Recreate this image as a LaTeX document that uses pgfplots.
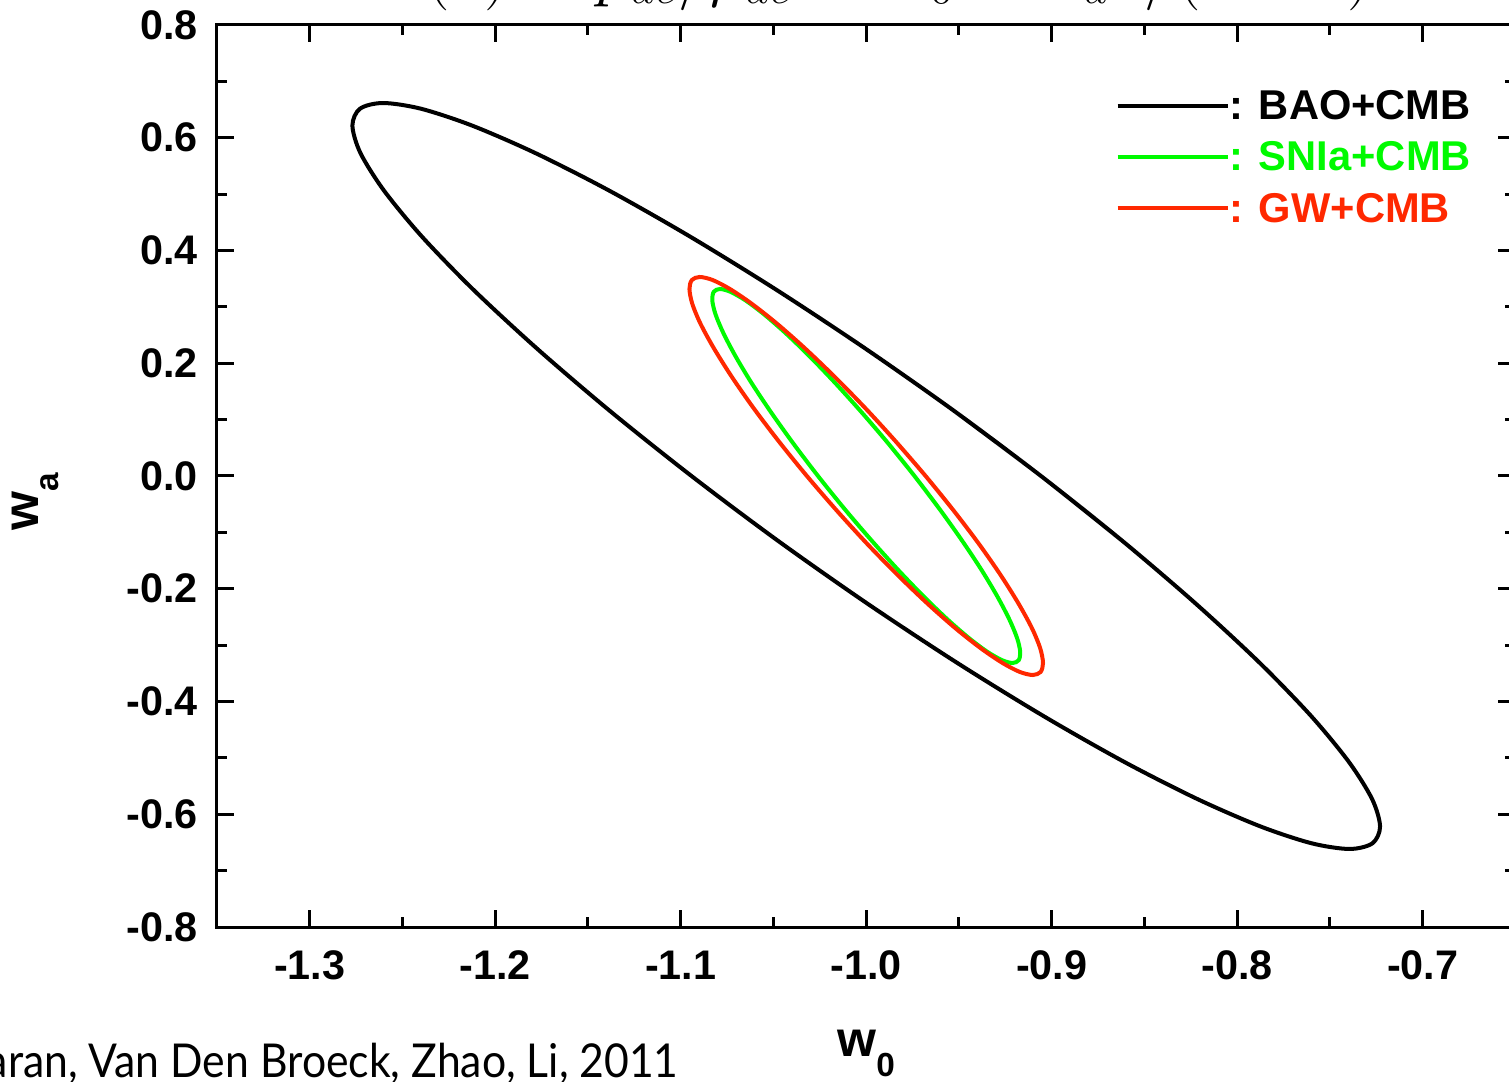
\documentclass[border=0pt]{standalone}
\usepackage{fontspec}
\setmainfont{Liberation Sans}
\newfontfamily\gill[FakeStretch=0.915]{Lato}
\usepackage{pgfplots}
\pgfplotsset{compat=1.18}
\definecolor{cgreen}{RGB}{0,250,0}
\definecolor{cred}{RGB}{255,40,0}
\begin{document}
\begin{tikzpicture}
\begin{axis}[
  at={(65.1pt,46.2pt)}, anchor=south west,
  scale only axis, width=389.55pt, height=270.6pt,
  xmin=-1.35, xmax=-0.65, ymin=-0.8, ymax=0.8,
  xtick={-1.3,-1.2,-1.1,-1.0,-0.9,-0.8,-0.7},
  xticklabels={-1.3,-1.2,-1.1,-1.0,-0.9,-0.8,-0.7},
  ytick={-0.8,-0.6,-0.4,-0.2,0,0.2,0.4,0.6,0.8},
  yticklabels={-0.8,-0.6,-0.4,-0.2,0.0,0.2,0.4,0.6,0.8},
  minor x tick num=1, minor y tick num=1,
  tick align=inside,
  major tick length=5.1pt, minor tick length=3pt,
  axis line style={line width=0.9pt},
  tick style={line width=0.9pt, black},
  tick label style={font=\bfseries\fontsize{12.4}{14}\selectfont},
  xticklabel style={yshift=-3.6pt},
  yticklabel style={xshift=-2.3pt},
  xlabel={w\raisebox{-6pt}{\fontsize{10}{10}\selectfont 0}},
  xlabel style={font=\bfseries\fontsize{15}{17}\selectfont, at={(axis description cs:0.5,-0.1441)}, anchor=base},
  ylabel={w\raisebox{-6pt}{\fontsize{10}{10}\selectfont a}},
  ylabel style={font=\bfseries\fontsize{15}{17}\selectfont, at={(axis description cs:-0.1375,0.471)}, anchor=base},
  legend style={draw=none, fill=none, at={(axis description cs:0.6916,0.930)}, anchor=north west,
    font=\bfseries\fontsize{12.5}{14}\selectfont, row sep=5.2pt, inner sep=0pt,
    nodes={inner sep=0pt, text height=9.2pt, text depth=1pt},
    /tikz/every even column/.append style={column sep=0pt}},
  legend cell align=left,
  legend image code/.code={\draw[#1] (0pt,0pt) -- (33pt,0pt);},
]
\addplot[black, line width=1.2pt, smooth] coordinates {
(-0.8620,-0.1149) (-0.9058,0) (-0.9524,0.1149) (-1.0006,0.2263) (-1.0487,0.3308) (-1.0953,0.4253)
(-1.1389,0.5068) (-1.1785,0.5730) (-1.2126,0.6217) (-1.2401,0.6515) (-1.2605,0.6616)
(-1.2729,0.6515) (-1.2770,0.6217) (-1.2727,0.5730) (-1.2601,0.5068) (-1.2397,0.4253)
(-1.2119,0.3308) (-1.1776,0.2263) (-1.1380,0.1149) (-1.0942,0) (-1.0476,-0.1149)
(-0.9994,-0.2263) (-0.9513,-0.3308) (-0.9047,-0.4253) (-0.8611,-0.5068) (-0.8215,-0.5730)
(-0.7874,-0.6217) (-0.7599,-0.6515) (-0.7395,-0.6616) (-0.7271,-0.6515) (-0.7230,-0.6217)
(-0.7273,-0.5730) (-0.7399,-0.5068) (-0.7603,-0.4253) (-0.7881,-0.3308) (-0.8224,-0.2263)
(-0.8620,-0.1149) (-0.9058,0) (-0.9524,0.1149)
};
\addlegendentry{\textcolor{black}{: BAO+CMB}}
\addplot[cgreen, line width=1.2pt, smooth] coordinates {
(-0.9607,-0.0576) (-0.9740,0) (-0.9881,0.0576) (-1.0026,0.1134) (-1.0170,0.1659) (-1.0308,0.2132)
(-1.0437,0.2541) (-1.0553,0.2873) (-1.0652,0.3117) (-1.0732,0.3267) (-1.0789,0.3317)
(-1.0822,0.3267) (-1.0830,0.3117) (-1.0813,0.2873) (-1.0771,0.2541) (-1.0706,0.2132)
(-1.0620,0.1659) (-1.0514,0.1134) (-1.0393,0.0576) (-1.0260,0) (-1.0119,-0.0576)
(-0.9974,-0.1134) (-0.9830,-0.1659) (-0.9692,-0.2132) (-0.9563,-0.2541) (-0.9447,-0.2873)
(-0.9348,-0.3117) (-0.9268,-0.3267) (-0.9211,-0.3317) (-0.9178,-0.3267) (-0.9170,-0.3117)
(-0.9187,-0.2873) (-0.9229,-0.2541) (-0.9294,-0.2132) (-0.9380,-0.1659) (-0.9486,-0.1134)
(-0.9607,-0.0576) (-0.9740,0) (-0.9881,0.0576)
};
\addlegendentry{\textcolor{cgreen}{: SNIa+CMB}}
\addplot[cred, line width=1.2pt, smooth] coordinates {
(-0.9529,-0.0613) (-0.9680,0) (-0.9841,0.0613) (-1.0006,0.1207) (-1.0172,0.1765) (-1.0332,0.2269)
(-1.0482,0.2704) (-1.0618,0.3057) (-1.0735,0.3317) (-1.0828,0.3476) (-1.0898,0.3530)
(-1.0940,0.3476) (-1.0953,0.3317) (-1.0938,0.3057) (-1.0894,0.2704) (-1.0822,0.2269)
(-1.0726,0.1765) (-1.0608,0.1207) (-1.0471,0.0613) (-1.0320,0) (-1.0159,-0.0613)
(-0.9994,-0.1207) (-0.9828,-0.1765) (-0.9668,-0.2269) (-0.9518,-0.2704) (-0.9382,-0.3057)
(-0.9265,-0.3317) (-0.9172,-0.3476) (-0.9102,-0.3530) (-0.9060,-0.3476) (-0.9047,-0.3317)
(-0.9062,-0.3057) (-0.9106,-0.2704) (-0.9178,-0.2269) (-0.9274,-0.1765) (-0.9392,-0.1207)
(-0.9529,-0.0613) (-0.9680,0) (-0.9841,0.0613)
};
\addlegendentry{\textcolor{cred}{: GW+CMB}}
\end{axis}
\node[anchor=base, font=\fontsize{20}{22}\selectfont] at (262pt,326.3pt) {$w(z)=p_{de}/\rho_{de}=w_0+w_a z/(1+z)$};
\node[anchor=base east, inner sep=0pt, font=\gill\fontsize{14}{16}\selectfont] at (203.8pt,1.2pt) {Baskaran, Van Den Broeck, Zhao, Li, 2011};
\pgfresetboundingbox
\path[use as bounding box] (0pt,0pt) rectangle (452.7pt,324.3pt);
\end{tikzpicture}
\end{document}
